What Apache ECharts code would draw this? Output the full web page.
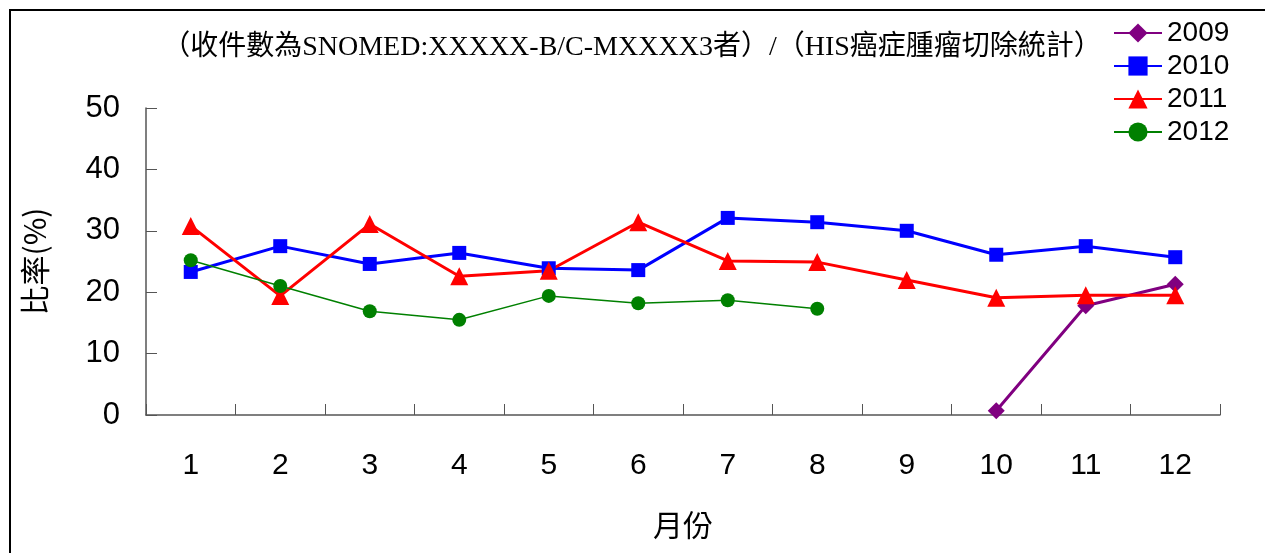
<!DOCTYPE html>
<html>
<head>
<meta charset="utf-8">
<script src="https://cdn.jsdelivr.net/npm/echarts@6/dist/echarts.min.js"></script>
<style>
  html, body { margin: 0; padding: 0; background: #fff; overflow: hidden; }
  #frame { position: absolute; left: 9px; top: 9px; width: 1300px; height: 600px; border: 2px solid #000; }
  #chart { position: absolute; left: 0; top: 0; width: 1265px; height: 553px; }
</style>
</head>
<body>
<div id="frame"></div>
<div id="chart"></div>
<script>
// 月份
const months = ['1', '2', '3', '4', '5', '6', '7', '8', '9', '10', '11', '12'];
// 比率(%)
const y2009 = [null, null, null, null, null, null, null, null, null, 0.7, 17.8, 21.3];
const y2010 = [23.3, 27.5, 24.6, 26.4, 23.9, 23.6, 32.1, 31.4, 30.0, 26.1, 27.5, 25.7];
const y2011 = [30.8, 19.4, 31.1, 22.6, 23.5, 31.4, 25.1, 24.9, 22.0, 19.1, 19.5, 19.5];
const y2012 = [25.2, 21.0, 16.9, 15.5, 19.4, 18.2, 18.7, 17.3, null, null, null, null];
const yTicks = [0, 10, 20, 30, 40, 50];

const titleText = '（收件數為SNOMED:XXXXX-B/C-MXXXX3者）/（HIS癌症腫瘤切除統計）';
const font = 'Liberation Sans, Arial, sans-serif';

const chart = echarts.init(document.getElementById('chart'));

const mkSeries = (name, data, color, symbol, size, width) => ({
  name: name,
  type: 'line',
  data: data,
  symbol: symbol,
  symbolSize: size,
  showAllSymbol: true,
  connectNulls: false,
  lineStyle: { color: color, width: width },
  itemStyle: { color: color },
  emphasis: { disabled: true },
  z: 3
});

chart.setOption({
  animation: false,
  title: {
    text: titleText,
    left: 627,
    top: 29,
    textAlign: 'center',
    textStyle: { fontFamily: 'Liberation Serif, Noto Sans CJK TC, serif', fontWeight: 'normal', fontSize: 28, color: '#000' }
  },
  legend: {
    orient: 'vertical',
    left: 1108,
    top: 14,
    itemWidth: 48,
    itemHeight: 24,
    itemGap: 5,
    textStyle: { fontFamily: font, fontSize: 28, color: '#000' },
    data: ['2009', '2010', '2011', '2012']
  },
  grid: { left: 146, right: 45, top: 108, bottom: 138 },
  xAxis: {
    type: 'category',
    data: months,
    boundaryGap: true,
    name: '月份',
    nameLocation: 'middle',
    nameGap: 95,
    nameTextStyle: { fontFamily: 'Noto Sans CJK TC, sans-serif', fontSize: 30, color: '#000' },
    axisLine: { lineStyle: { color: '#555', width: 1.5 } },
    axisTick: { show: true, inside: true, length: 11, interval: 0, lineStyle: { color: '#555' } },
    axisLabel: { margin: 36, fontFamily: font, fontSize: 30, color: '#000', interval: 0 },
    splitLine: { show: false }
  },
  yAxis: {
    type: 'value',
    min: yTicks[0],
    max: yTicks[yTicks.length - 1],
    interval: 10,
    name: '比率(%)',
    nameLocation: 'middle',
    nameGap: 96,
    nameRotate: 90,
    nameTextStyle: { fontFamily: 'Noto Sans CJK TC, sans-serif', fontSize: 30, color: '#000' },
    axisLine: { show: true, lineStyle: { color: '#555', width: 1.5 } },
    axisTick: { show: true, inside: true, length: 11, lineStyle: { color: '#555' } },
    axisLabel: { margin: 26, fontFamily: font, fontSize: 31, color: '#000' },
    splitLine: { show: false }
  },
  series: [
    mkSeries('2009', y2009, '#800080', 'diamond', 17, 3),
    mkSeries('2010', y2010, '#0000ff', 'rect', 14, 3),
    mkSeries('2011', y2011, '#ff0000', 'triangle', 18, 3),
    mkSeries('2012', y2012, '#008000', 'circle', 14, 1.5)
  ]
});
</script>
</body>
</html>
